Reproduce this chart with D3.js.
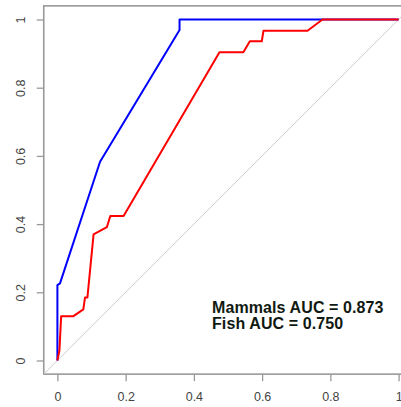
<!DOCTYPE html>
<html>
<head>
<meta charset="utf-8">
<script src="https://cdn.jsdelivr.net/npm/d3@7"></script>
<style>
  html, body { margin: 0; padding: 0; background: #fff; }
  svg { display: block; }
</style>
</head>
<body>
<script>
// ---- data ----
const mammalsFPR = [0, 0, 0.0076, 0.125, 0.358, 0.358, 1];
const mammalsTPR = [0, 0.221, 0.226, 0.583, 0.969, 1, 1];
const fishFPR = [0, 0.006, 0.011, 0.047, 0.076, 0.081, 0.088, 0.091, 0.106, 0.145, 0.155, 0.194, 0.475, 0.545, 0.564, 0.599, 0.604, 0.733, 0.777, 1];
const fishTPR = [0, 0.03, 0.13, 0.13, 0.15, 0.185, 0.185, 0.216, 0.37, 0.391, 0.424, 0.424, 0.904, 0.904, 0.936, 0.936, 0.967, 0.967, 1, 1];
const tickValues = [0, 0.2, 0.4, 0.6, 0.8, 1];
const tickLabels = ["0", "0.2", "0.4", "0.6", "0.8", "1"];
const legendLines = ["Mammals AUC = 0.873", "Fish AUC = 0.750"];

const W = 401, H = 407;
const svg = d3.select("body").append("svg").attr("width", W).attr("height", H);

const x = d3.scaleLinear().domain([0, 1]).range([57.4, 398.6]);
const y = d3.scaleLinear().domain([0, 1]).range([360.5, 19.5]);
const ext = [-0.04, 1.04];

// plot frame
const frameColor = "#999";
svg.append("rect")
  .attr("x", x(ext[0])).attr("y", y(ext[1]))
  .attr("width", x(ext[1]) - x(ext[0])).attr("height", y(ext[0]) - y(ext[1]))
  .attr("fill", "none").attr("stroke", frameColor).attr("stroke-width", 1.6);

// diagonal
svg.append("line")
  .attr("x1", x(ext[0])).attr("y1", y(ext[0]))
  .attr("x2", x(ext[1])).attr("y2", y(ext[1]))
  .attr("stroke", "#cfcfcf").attr("stroke-width", 1);

// axes
const fmt = (d, i) => tickLabels[i];
const xAxis = svg.append("g").attr("transform", `translate(0,${y(ext[0])})`)
  .call(d3.axisBottom(x).tickValues(tickValues).tickFormat(fmt).tickSize(7).tickPadding(8));
const yAxis = svg.append("g").attr("transform", `translate(${x(ext[0])},0)`)
  .call(d3.axisLeft(y).tickValues(tickValues).tickFormat(fmt).tickSize(7).tickPadding(8));
[xAxis, yAxis].forEach(g => {
  g.select(".domain").remove();
  g.selectAll(".tick line").attr("stroke", frameColor).attr("stroke-width", 1.3);
  g.selectAll(".tick text")
    .attr("fill", "#444")
    .style("font-family", "'Liberation Sans', Arial, sans-serif")
    .style("font-size", "12.5px");
});
xAxis.selectAll(".tick text").attr("dy", null).attr("y", 0)
  .attr("transform", "translate(0,27)");
yAxis.selectAll(".tick text")
  .attr("x", null).attr("dy", null)
  .attr("text-anchor", "middle")
  .attr("transform", "translate(-18.5,0) rotate(-90)");

// curves
const line = d3.line().x(d => x(d[0])).y(d => y(d[1]));
const mammals = mammalsFPR.map((v, i) => [v, mammalsTPR[i]]);
const fish = fishFPR.map((v, i) => [v, fishTPR[i]]);
svg.append("path").datum(mammals).attr("d", line)
  .attr("fill", "none").attr("stroke", "#0000ff").attr("stroke-width", 2).attr("stroke-linejoin", "round");
svg.append("path").datum(fish).attr("d", line)
  .attr("fill", "none").attr("stroke", "#ff0000").attr("stroke-width", 2).attr("stroke-linejoin", "round");

// legend text
svg.append("g").selectAll("text").data(legendLines).join("text")
  .attr("x", 212).attr("y", (d, i) => 312.5 + i * 16)
  .attr("fill", "#111a11")
  .style("font-family", "'Liberation Sans', Arial, sans-serif")
  .style("font-weight", "bold")
  .style("font-size", "16px")
  .style("letter-spacing", "0.1px")
  .text(d => d);
</script>
</body>
</html>
